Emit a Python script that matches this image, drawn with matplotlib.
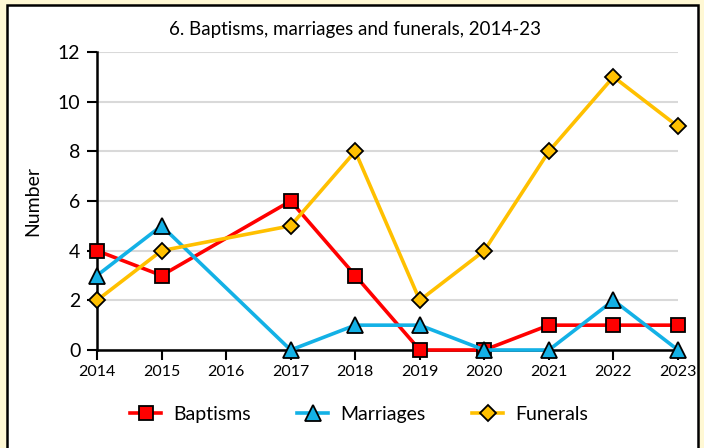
import numpy as np
import matplotlib.pyplot as plt
from matplotlib.patches import Rectangle

plt.rcParams['font.family'] = ['Lato', 'DejaVu Sans']

years = [2014, 2015, 2016, 2017, 2018, 2019, 2020, 2021, 2022, 2023]
# 2016 has no values in the source, so it is left out of each series
data_years = [2014, 2015, 2017, 2018, 2019, 2020, 2021, 2022, 2023]
baptisms = [4, 3, 6, 3, 0, 0, 1, 1, 1]
marriages = [3, 5, 0, 1, 1, 0, 0, 2, 0]
funerals = [2, 4, 5, 8, 2, 4, 8, 11, 9]

fig = plt.figure(figsize=(7.04, 4.48), dpi=100, facecolor='#FFF8D4')
fig.patches.append(Rectangle((7 / 704, -0.1), 691 / 704, 1.1 - 5 / 448,
                             transform=fig.transFigure, facecolor='white',
                             edgecolor='black', linewidth=1.8, zorder=-1))

ax = fig.add_axes([97 / 704, 1 - 350 / 448, 581 / 704, 298 / 448])
ax.set_facecolor('white')

ax.plot(data_years, baptisms, color='#FF0000', lw=2.6, marker='s', ms=10,
        mfc='#FF0000', mec='black', mew=1.3, label='Baptisms', clip_on=False, zorder=3)
ax.plot(data_years, marriages, color='#13B1E6', lw=2.6, marker='^', ms=11,
        mfc='#13B1E6', mec='black', mew=1.3, label='Marriages', clip_on=False, zorder=3)
ax.plot(data_years, funerals, color='#FFC000', lw=2.6, marker='D', ms=8,
        mfc='#FFC000', mec='black', mew=1.3, label='Funerals', clip_on=False, zorder=3)

ax.set_xlim(2014, 2023)
ax.set_ylim(0, 12)
ax.set_xticks(years)
ax.set_xticklabels([str(y) for y in years], fontsize=11.5)
ax.set_yticks(np.arange(0, 13, 2))
ax.tick_params(axis='y', labelsize=14, length=7, width=1.5, direction='out', pad=5)
ax.tick_params(axis='x', length=7, width=1.5, direction='out', pad=4)
ax.yaxis.grid(True, color='#D9D9D9', lw=1.5)
ax.set_axisbelow(True)
for s in ['top', 'right']:
    ax.spines[s].set_visible(False)
for s in ['left', 'bottom']:
    ax.spines[s].set_linewidth(1.8)
ax.set_ylabel('Number', fontsize=14, labelpad=12)

fig.text(355 / 704, 1 - 30 / 448, '6. Baptisms, marriages and funerals, 2014-23',
         ha='center', va='center', fontsize=13.5)

fig.legend(loc='center', bbox_to_anchor=(359 / 704, 1 - 414 / 448), ncol=3,
           frameon=False, fontsize=14, columnspacing=2.4, handlelength=1.6,
           handletextpad=0.6)

fig.savefig('out.png', dpi=100, facecolor=fig.get_facecolor())
